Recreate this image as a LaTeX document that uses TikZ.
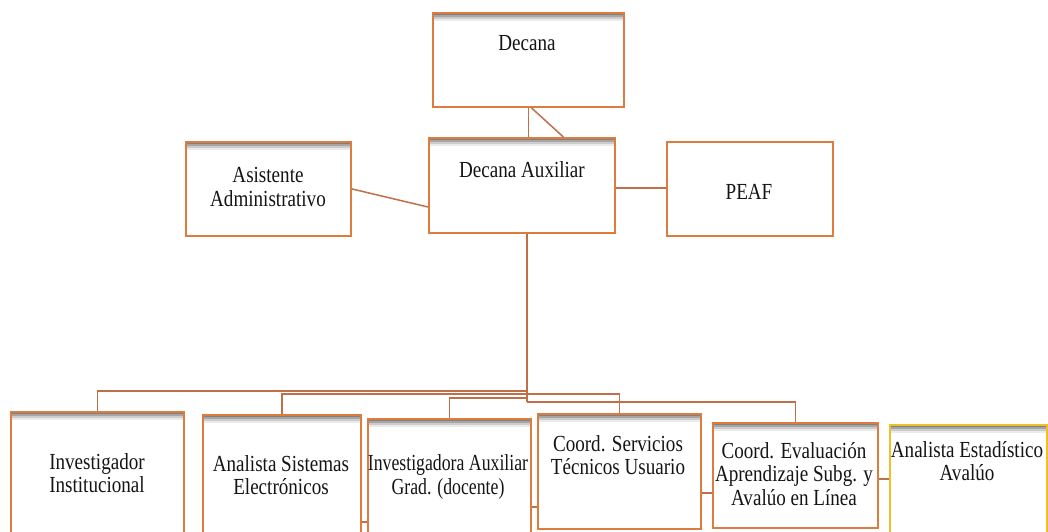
\documentclass[tikz,border=0pt]{standalone}
\usepackage{fontspec}
\setmainfont{Liberation Serif}[FakeStretch=0.83]
\definecolor{boxorange}{RGB}{222,124,62}
\definecolor{connbrown}{RGB}{192,112,72}
\definecolor{boxyellow}{RGB}{240,192,40}
\definecolor{txtcol}{RGB}{20,20,20}
\tikzset{
  orgbox/.style={draw=boxorange, line width=1.8pt, inner sep=0pt, anchor=north west},
  ylwbox/.style={orgbox, draw=boxyellow},
  lbl/.style={text=txtcol, align=center, inner sep=0pt, font=\fontsize{23}{23.5}\selectfont},
  conn/.style={draw=connbrown, line width=1.5pt},
}
\begin{document}
\begin{tikzpicture}[x=1pt,y=-1pt]
\useasboundingbox (0,0) rectangle (1048,531);
% top shadows (drawn first)
\fill[black!50] (432,13) rectangle (623,15); \fill[black!35] (432,15) rectangle (623,17); \fill[black!20] (432,17) rectangle (623,19); \fill[black!8] (432,19) rectangle (623,21);
\fill[black!50] (428,138) rectangle (614,140); \fill[black!35] (428,140) rectangle (614,142); \fill[black!20] (428,142) rectangle (614,144); \fill[black!8] (428,144) rectangle (614,146);
\fill[black!50] (185,142) rectangle (350,144); \fill[black!35] (185,144) rectangle (350,146); \fill[black!20] (185,146) rectangle (350,148); \fill[black!8] (185,148) rectangle (350,150);
\fill[black!50] (10,412) rectangle (183,414); \fill[black!35] (10,414) rectangle (183,416); \fill[black!20] (10,416) rectangle (183,418); \fill[black!8] (10,418) rectangle (183,420);
\fill[black!50] (202,415) rectangle (360,417); \fill[black!35] (202,417) rectangle (360,419); \fill[black!20] (202,419) rectangle (360,421); \fill[black!8] (202,421) rectangle (360,423);
\fill[black!50] (367,419) rectangle (530,421); \fill[black!35] (367,421) rectangle (530,423); \fill[black!20] (367,423) rectangle (530,425); \fill[black!8] (367,425) rectangle (530,427);
\fill[black!50] (537,414) rectangle (700,416); \fill[black!35] (537,416) rectangle (700,418); \fill[black!20] (537,418) rectangle (700,420); \fill[black!8] (537,420) rectangle (700,422);
\fill[black!50] (712,423) rectangle (877,425); \fill[black!35] (712,425) rectangle (877,427); \fill[black!20] (712,427) rectangle (877,429); \fill[black!8] (712,429) rectangle (877,431);
\fill[black!50] (889,425) rectangle (1046,427); \fill[black!35] (889,427) rectangle (1046,429); \fill[black!20] (889,429) rectangle (1046,431); \fill[black!8] (889,431) rectangle (1046,433);
% boxes
\node[orgbox, minimum width=191pt, minimum height=94pt] (dec) at (432,12) {};
\node[orgbox, minimum width=186pt, minimum height=95pt] (aux) at (428,137) {};
\node[orgbox, minimum width=165pt, minimum height=94pt] (asis) at (185,141) {};
\node[orgbox, minimum width=166pt, minimum height=94pt] (peaf) at (666,141) {};
\node[orgbox, minimum width=173pt, minimum height=140pt] (b1) at (10,411) {};
\node[orgbox, minimum width=158pt, minimum height=140pt] (b2) at (202,414) {};
\node[orgbox, minimum width=163pt, minimum height=140pt] (b3) at (367,418) {};
\node[orgbox, minimum width=163pt, minimum height=115pt] (b4) at (537,413) {};
\node[orgbox, minimum width=165pt, minimum height=105pt] (b5) at (712,422) {};
\node[ylwbox, minimum width=157pt, minimum height=130pt] (b6) at (889,424) {};
% labels
\node[lbl] (tdec) at (527,43) {Decana};
\node[lbl] (taux) at (522,170) {Decana Auxiliar};
\node[lbl] (tasis) at (268,187) {Asistente\\Administrativo};
\node[lbl] (tpeaf) at (749,192) {PEAF};
\node[lbl] (tb1) at (97,473) {Investigador\\Institucional};
\node[lbl] (tb2) at (281,475) {Analista Sistemas\\Electrónicos};
\node[lbl] (tb3) at (448,477) {\scalebox{0.93}[1]{Investigadora Auxiliar}\\\scalebox{0.93}[1]{Grad. (docente)}};
\node[lbl] (tb4) at (618,455) {Coord. Servicios\\Técnicos Usuario};
\node[lbl] (tb5) at (794,474) {Coord. Evaluación\\Aprendizaje Subg. y\\Avalúo en Línea};
\node[lbl] (tb6) at (967,461) {Analista Estadístico\\Avalúo};
% upper connectors
\draw[conn] (dec.south) -- (dec.south |- aux.north);
\draw[conn] ([xshift=3pt]dec.south) -- ([xshift=35pt]dec.south |- aux.north);
\draw[conn] (asis.east) -- (aux.west |- 0,207);
\draw[conn] (aux.east |- 0,188) -- (peaf.west |- 0,188);
% bus
\coordinate (bus1) at (527,391);
\coordinate (bus2) at (527,394);
\coordinate (bus3) at (527,398);
\coordinate (bus5) at (527,402);
\draw[conn] (aux.south -| bus1) -- (bus5);
\draw[conn] (bus1) -| (b1.north);
\draw[conn] (bus2) -| (b2.north);
\draw[conn] (bus3) -| (b3.north);
\draw[conn] (bus2) -| (b4.north);
\draw[conn] (bus5) -| (b5.north);
% side connectors
\draw[conn] (b2.east |- 0,522) -- (b3.west |- 0,522);
\draw[conn] (b3.east |- 0,507) -- (b4.west |- 0,507);
\draw[conn] (b4.east |- 0,493) -- (b5.west |- 0,493);
\draw[conn] (b5.east |- 0,479) -- (b6.west |- 0,479);
\end{tikzpicture}
\end{document}
